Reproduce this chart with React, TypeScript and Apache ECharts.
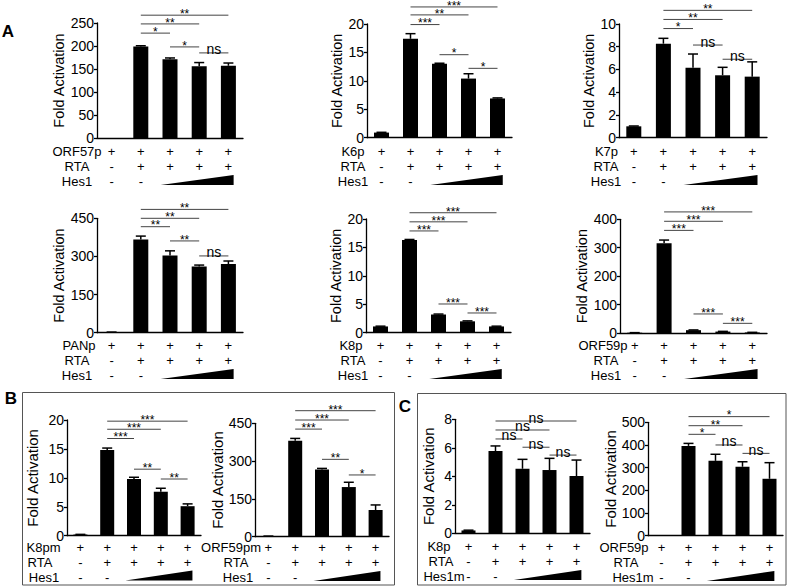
import React, { useEffect, useRef } from "react";
import * as echarts from "echarts";

const FONT = "'Liberation Sans', Arial, Helvetica, sans-serif";

// shared categories and the +/- rows under each panel
const categories = ["c1", "c2", "c3", "c4", "c5"];
const promoterMarks = ["+", "+", "+", "+", "+"];
const rtaMarks = ["-", "+", "+", "+", "+"];
const hesMarks = ["-", "-", "", "", ""];

// A1 ORF57p
const orf57pValues = [0, 199, 171, 156, 157];
const orf57pErrors = [0, 1.5, 3, 8, 6];
const orf57pSig = [[1, 4, 267], [1, 3, 248], [1, 2, 228], [2, 3, 198], [3, 4, 185]];
const orf57pSigLabels = ["**", "**", "*", "*", "ns"];
const orf57pTicks = { max: 250, interval: 50 };

// A2 K6p
const k6pValues = [0.9, 17.4, 13.0, 10.4, 6.9];
const k6pErrors = [0.05, 0.9, 0.1, 0.85, 0.1];
const k6pSig = [[1, 4, 23.0], [1, 3, 21.6], [1, 2, 19.9], [2, 3, 14.6], [3, 4, 12.2]];
const k6pSigLabels = ["***", "**", "***", "*", "*"];
const k6pTicks = { max: 20, interval: 5 };

// A3 K7p
const k7pValues = [1.0, 8.27, 6.16, 5.49, 5.37];
const k7pErrors = [0.03, 0.47, 1.2, 0.7, 1.3];
const k7pSig = [[1, 4, 11.2], [1, 3, 10.4], [1, 2, 9.6], [2, 3, 8.15], [3, 4, 6.9]];
const k7pSigLabels = ["**", "**", "*", "ns", "ns"];
const k7pTicks = { max: 10, interval: 2 };

// A4 PANp
const panpValues = [2, 367, 304, 260, 270];
const panpErrors = [0.5, 13, 18, 6, 12];
const panpSig = [[1, 4, 485], [1, 3, 450], [1, 2, 417], [2, 3, 361], [3, 4, 302]];
const panpSigLabels = ["**", "**", "**", "**", "ns"];
const panpTicks = { max: 450, interval: 150 };

// A5 K8p
const k8pValues = [1.1, 16.3, 3.2, 2.0, 1.1];
const k8pErrors = [0.05, 0.1, 0.08, 0.08, 0.05];
const k8pSig = [[1, 4, 21.1], [1, 3, 19.5], [1, 2, 17.9], [2, 3, 5.05], [3, 4, 3.47]];
const k8pSigLabels = ["***", "***", "***", "***", "***"];
const k8pTicks = { max: 20, interval: 5 };

// A6 ORF59p
const orf59pValues = [1, 316, 10, 5, 2];
const orf59pErrors = [0.3, 11, 0.8, 0.8, 0.4];
const orf59pSig = [[1, 4, 426], [1, 3, 393], [1, 2, 361], [2, 3, 67], [3, 4, 34]];
const orf59pSigLabels = ["***", "***", "***", "***", "***"];
const orf59pTicks = { max: 400, interval: 100 };

// B1 K8pm
const k8pmValues = [0.2, 14.8, 9.8, 7.6, 5.1];
const k8pmErrors = [0.03, 0.35, 0.3, 0.6, 0.4];
const k8pmSig = [[1, 4, 19.8], [1, 3, 18.4], [1, 2, 16.8], [2, 3, 11.5], [3, 4, 9.8]];
const k8pmSigLabels = ["***", "***", "***", "**", "**"];
const k8pmTicks = { max: 20, interval: 5 };

// B2 ORF59pm
const orf59pmValues = [2, 381, 267, 197, 106];
const orf59pmErrors = [0.5, 9, 4, 19, 20];
const orf59pmSig = [[1, 4, 500], [1, 3, 463], [1, 2, 427], [2, 3, 307], [3, 4, 245]];
const orf59pmSigLabels = ["***", "***", "***", "**", "*"];
const orf59pmTicks = { max: 450, interval: 150 };

// C1 K8p + Hes1m
const k8pMutValues = [0.2, 5.77, 4.53, 4.44, 4.02];
const k8pMutErrors = [0.02, 0.36, 0.66, 0.82, 1.12];
const k8pMutSig = [[1, 4, 7.88], [1, 3, 7.25], [1, 2, 6.62], [2, 3, 6.04], [3, 4, 5.49]];
const k8pMutSigLabels = ["ns", "ns", "ns", "ns", "ns"];
const k8pMutTicks = { max: 8, interval: 2 };

// C2 ORF59p + Hes1m
const orf59pMutValues = [0, 396, 330, 304, 251];
const orf59pMutErrors = [0, 11, 29, 22, 71];
const orf59pMutSig = [[1, 4, 525], [1, 3, 485], [1, 2, 447], [2, 3, 400], [3, 4, 363]];
const orf59pMutSigLabels = ["*", "**", "*", "ns", "ns"];
const orf59pMutTicks = { max: 500, interval: 100 };

type Panel = {
  values: number[];
  errors: number[];
  sig: number[][];
  sigLabels: string[];
  ticks: { max: number; interval: number };
  rowNames: string[];
  // layout
  left: number;
  top: number;
  width: number;
  height: number;
  nameGap: number;
  nameSize: number;
  rowX: number[];
  rowY: number;
  barWidth: number;
};

const panels: Panel[] = [
  { values: orf57pValues, errors: orf57pErrors, sig: orf57pSig, sigLabels: orf57pSigLabels, ticks: orf57pTicks,
    rowNames: ["ORF57p", "RTA", "Hes1"], left: 97, top: 23, width: 146, height: 115, nameGap: 27, nameSize: 14.5,
    rowX: [77, 77, 77], rowY: 151.5, barWidth: 15 },
  { values: k6pValues, errors: k6pErrors, sig: k6pSig, sigLabels: k6pSigLabels, ticks: k6pTicks,
    rowNames: ["K6p", "RTA", "Hes1"], left: 367, top: 24, width: 145, height: 113.7, nameGap: 20, nameSize: 14.5,
    rowX: [353, 353, 353], rowY: 151.5, barWidth: 15 },
  { values: k7pValues, errors: k7pErrors, sig: k7pSig, sigLabels: k7pSigLabels, ticks: k7pTicks,
    rowNames: ["K7p", "RTA", "Hes1"], left: 619, top: 24, width: 148, height: 113.7, nameGap: 17, nameSize: 14.5,
    rowX: [606.5, 606, 606], rowY: 151.5, barWidth: 15 },
  { values: panpValues, errors: panpErrors, sig: panpSig, sigLabels: panpSigLabels, ticks: panpTicks,
    rowNames: ["PANp", "RTA", "Hes1"], left: 97, top: 218.3, width: 146, height: 114.4, nameGap: 28, nameSize: 14.5,
    rowX: [79, 77, 77], rowY: 345.5, barWidth: 15 },
  { values: k8pValues, errors: k8pErrors, sig: k8pSig, sigLabels: k8pSigLabels, ticks: k8pTicks,
    rowNames: ["K8p", "RTA", "Hes1"], left: 366, top: 219, width: 145, height: 113.7, nameGap: 19, nameSize: 14.5,
    rowX: [351, 353, 353], rowY: 345.5, barWidth: 15 },
  { values: orf59pValues, errors: orf59pErrors, sig: orf59pSig, sigLabels: orf59pSigLabels, ticks: orf59pTicks,
    rowNames: ["ORF59p", "RTA", "Hes1"], left: 620, top: 219.3, width: 147, height: 113.7, nameGap: 28, nameSize: 14.5,
    rowX: [603, 606, 606], rowY: 345.5, barWidth: 15 },
  { values: k8pmValues, errors: k8pmErrors, sig: k8pmSig, sigLabels: k8pmSigLabels, ticks: k8pmTicks,
    rowNames: ["K8pm", "RTA", "Hes1"], left: 67, top: 420, width: 134, height: 115.7, nameGap: 27, nameSize: 15,
    rowX: [43.5, 40, 44], rowY: 547, barWidth: 14 },
  { values: orf59pmValues, errors: orf59pmErrors, sig: orf59pmSig, sigLabels: orf59pmSigLabels, ticks: orf59pmTicks,
    rowNames: ["ORF59pm", "RTA", "Hes1"], left: 255, top: 423.3, width: 134, height: 113.4, nameGap: 30, nameSize: 15,
    rowX: [231, 236, 238], rowY: 547.5, barWidth: 14 },
  { values: k8pMutValues, errors: k8pMutErrors, sig: k8pMutSig, sigLabels: k8pMutSigLabels, ticks: k8pMutTicks,
    rowNames: ["K8p", "RTA", "Hes1m"], left: 455, top: 419.3, width: 135, height: 114, nameGap: 19, nameSize: 15,
    rowX: [439, 441, 444], rowY: 546.5, barWidth: 14 },
  { values: orf59pMutValues, errors: orf59pMutErrors, sig: orf59pMutSig, sigLabels: orf59pMutSigLabels, ticks: orf59pMutTicks,
    rowNames: ["ORF59p", "RTA", "Hes1m"], left: 648, top: 422.3, width: 135, height: 113.4, nameGap: 27, nameSize: 15,
    rowX: [624, 626, 633], rowY: 547.5, barWidth: 14 },
];

const LH = 15;

function buildOption() {
  const grid: any[] = [];
  const xAxis: any[] = [];
  const yAxis: any[] = [];
  const series: any[] = [];
  const graphic: any[] = [];

  panels.forEach((p, k) => {
    const y0 = p.top + p.height;
    grid.push({ left: p.left, top: p.top, width: p.width, height: p.height, containLabel: false });
    xAxis.push({
      type: "category",
      gridIndex: k,
      data: categories,
      boundaryGap: true,
      axisLine: { show: true, lineStyle: { color: "#000", width: 1.3 } },
      axisTick: { show: false },
      axisLabel: {
        interval: 0,
        margin: p.rowY - y0 - LH / 2,
        lineHeight: LH,
        fontSize: 13,
        color: "#000",
        fontFamily: FONT,
        formatter: (_v: string, i: number) => [promoterMarks[i], rtaMarks[i], hesMarks[i]].join("\n"),
      },
    });
    yAxis.push({
      type: "value",
      gridIndex: k,
      min: 0,
      max: p.ticks.max,
      interval: p.ticks.interval,
      axisLine: { show: true, lineStyle: { color: "#000", width: 1.3 } },
      axisTick: { show: true, length: 3, lineStyle: { color: "#000", width: 1.3 } },
      splitLine: { show: false },
      axisLabel: { fontSize: 14, color: "#000", margin: 3, fontFamily: FONT },
      name: "Fold Activation",
      nameLocation: "middle",
      nameGap: p.nameGap,
      nameTextStyle: { fontSize: p.nameSize, color: "#000", fontFamily: FONT },
    });
    series.push({
      type: "bar",
      xAxisIndex: k,
      yAxisIndex: k,
      data: p.values,
      barWidth: p.barWidth,
      itemStyle: { color: "#000" },
      silent: true,
    });
    // error bars
    series.push({
      type: "custom",
      xAxisIndex: k,
      yAxisIndex: k,
      clip: false,
      silent: true,
      data: p.values.map((v, i) => [i, v, p.errors[i]]),
      renderItem: (_params: any, api: any) => {
        const i = api.value(0);
        const v = api.value(1);
        const e = api.value(2);
        if (!e) return { type: "group", children: [] };
        const a = api.coord([i, v]);
        const b = api.coord([i, v + e]);
        const hw = 5;
        return {
          type: "group",
          children: [
            { type: "line", shape: { x1: a[0], y1: a[1], x2: b[0], y2: b[1] }, style: { stroke: "#000", lineWidth: 1.5 } },
            { type: "line", shape: { x1: b[0] - hw, y1: b[1], x2: b[0] + hw, y2: b[1] }, style: { stroke: "#000", lineWidth: 1.5 } },
          ],
        };
      },
    });
    // significance brackets
    series.push({
      type: "custom",
      xAxisIndex: k,
      yAxisIndex: k,
      clip: false,
      silent: true,
      data: p.sig.map((s) => [s[0], s[2], s[1]]),
      renderItem: (params: any, api: any) => {
        const i1 = api.value(0);
        const y = api.value(1);
        const i2 = api.value(2);
        const a = api.coord([i1, y]);
        const b = api.coord([i2, y]);
        const label = p.sigLabels[params.dataIndex];
        const isNs = label === "ns";
        return {
          type: "group",
          children: [
            { type: "line", shape: { x1: a[0], y1: a[1], x2: b[0], y2: b[1] }, style: { stroke: "#444", lineWidth: 1 } },
            {
              type: "text",
              x: (a[0] + b[0]) / 2,
              y: a[1] - (isNs ? 3.5 : 1.2),
              style: {
                text: label,
                fontSize: isNs ? 14 : 12,
                fontFamily: FONT,
                fill: "#000",
                align: "center",
                verticalAlign: "middle",
              },
            },
          ],
        };
      },
    });
    // Hes1 ramp
    series.push({
      type: "custom",
      xAxisIndex: k,
      yAxisIndex: k,
      clip: false,
      silent: true,
      data: [[2, 0, 4]],
      renderItem: (_params: any, api: any) => {
        const a = api.coord([api.value(0), api.value(1)]);
        const b = api.coord([api.value(2), api.value(1)]);
        const w = (b[0] - a[0]) / 2;
        const x1 = a[0] - 0.32 * w;
        const x2 = b[0] + 0.18 * w;
        const yb = p.rowY + 2 * LH + 3.5;
        return {
          type: "polygon",
          shape: { points: [[x1, yb], [x2, yb - 10], [x2, yb]] },
          style: { fill: "#000" },
        };
      },
    });
    // row names
    p.rowNames.forEach((name, j) => {
      graphic.push({
        type: "text",
        x: p.rowX[j],
        y: p.rowY + j * LH,
        style: { text: name, fontSize: 13, fontFamily: FONT, fill: "#000", align: "center", verticalAlign: "middle" },
      });
    });
  });

  // panel letters
  const letters: [string, number, number][] = [["A", 8, 31], ["B", 11, 398], ["C", 405, 406]];
  letters.forEach(([t, x, y]) => {
    graphic.push({
      type: "text",
      x,
      y,
      style: { text: t, fontSize: 17, fontWeight: "bold", fontFamily: FONT, fill: "#000", align: "center", verticalAlign: "middle" },
    });
  });
  // boxes for B and C
  graphic.push({ type: "rect", shape: { x: 22.5, y: 392.5, width: 372, height: 192.5 }, style: { fill: "none", stroke: "#555", lineWidth: 1 } });
  graphic.push({ type: "rect", shape: { x: 417.5, y: 393.5, width: 368.5, height: 191.5 }, style: { fill: "none", stroke: "#555", lineWidth: 1 } });

  return {
    animation: false,
    backgroundColor: "#fff",
    textStyle: { fontFamily: FONT },
    grid,
    xAxis,
    yAxis,
    series,
    graphic,
  };
}

export default function App() {
  const ref = useRef<HTMLDivElement>(null);
  useEffect(() => {
    if (!ref.current) return;
    const chart = echarts.init(ref.current, undefined, { renderer: "svg" });
    chart.setOption(buildOption() as any);
    return () => chart.dispose();
  }, []);
  return (
    <div
      ref={ref}
      style={{ position: "absolute", left: 0, top: 0, width: 790, height: 587, background: "#fff" }}
    />
  );
}
